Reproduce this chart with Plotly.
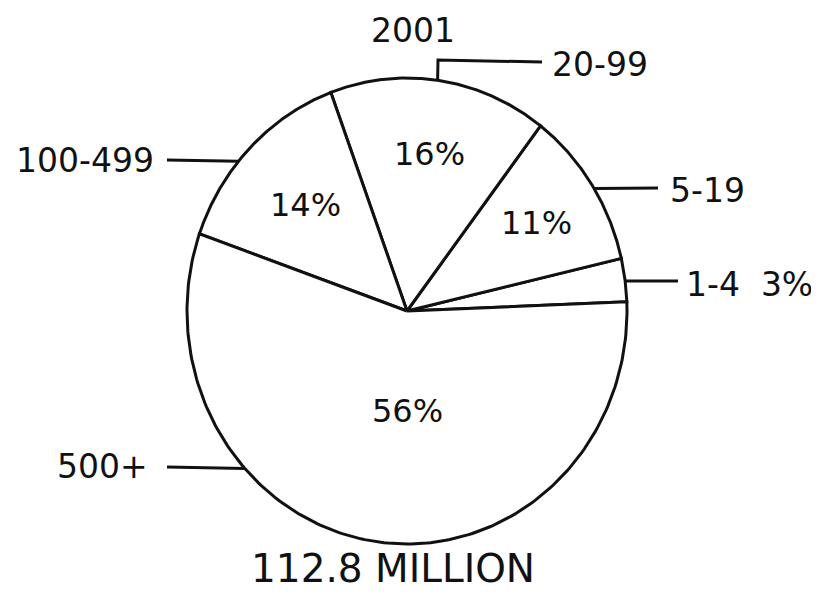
import numpy as np
import plotly.graph_objects as go

# data
labels = ["1-4", "5-19", "20-99", "100-499", "500+"]
shares = [3, 11, 16, 14, 56]
year = "2001"
total_text = "112.8 MILLION"

# pie geometry (page pixels, scan is slightly taller than wide)
CX, CY = 407, 311
RX, RY = 220, 233
START = 2.25  # degrees, counter-clockwise from 3 o'clock

FONT = "DejaVu Sans, sans-serif"
INK = "#111"
PAD = 8  # page body margin, so axis units equal page pixels


def pt(deg, f=1.0):
    t = np.radians(deg)
    return CX + f * RX * np.cos(t), CY - f * RY * np.sin(t)


fig = go.Figure()

bounds = START + np.concatenate([[0], np.cumsum(shares)]) * 3.6
for i, lab in enumerate(labels):
    a0, a1 = bounds[i], bounds[i + 1]
    ts = np.linspace(a0, a1, 200)
    xs, ys = pt(ts)
    fig.add_trace(go.Scatter(
        x=np.concatenate([[CX], xs, [CX]]),
        y=np.concatenate([[CY], ys, [CY]]),
        mode="lines", fill="toself", fillcolor="white",
        line=dict(color=INK, width=3), name=lab,
        hoverinfo="name", showlegend=False,
    ))

# inside percentage labels (3% is written outside)
inner_r = {"5-19": 0.70, "20-99": 0.68, "100-499": 0.65, "500+": 0.43}
for i, lab in enumerate(labels):
    if lab not in inner_r:
        continue
    mid = (bounds[i] + bounds[i + 1]) / 2
    if lab == "500+":
        mid = 270.5
    x, y = pt(mid, inner_r[lab])
    fig.add_annotation(x=x, y=y, text=f"{shares[i]}%", showarrow=False,
                       font=dict(size=32, color=INK, family=FONT))

# outside labels with leader lines: (angle on rim, path after rim, text anchor)
leaders = {
    "20-99": (82, [(438, 60), (542, 62)], (550, 64, "left")),
    "5-19": (31.7, [(658, 188)], (668, 190, "left")),
    "1-4": (7.4, [(678, 281)], (684, 284, "left")),
    "100-499": (140, [(167, 160)], (156, 160, "right")),
    "500+": (222.5, [(167, 467)], (150, 466, "right")),
}
for i, lab in enumerate(labels):
    ang, path, (tx, ty, anchor) = leaders[lab]
    x0, y0 = pt(ang)
    fig.add_trace(go.Scatter(
        x=[x0] + [p[0] for p in path], y=[y0] + [p[1] for p in path],
        mode="lines", line=dict(color=INK, width=3),
        hoverinfo="skip", showlegend=False,
    ))
    text = f"{lab}&nbsp;&nbsp;{shares[i]}%" if lab == "1-4" else lab
    fig.add_annotation(x=tx, y=ty, text=text, showarrow=False, xanchor=anchor,
                       font=dict(size=33, color=INK, family=FONT))

fig.add_annotation(x=413, y=30, text=year, showarrow=False,
                   font=dict(size=33, color=INK, family=FONT))
fig.add_annotation(x=393, y=568, text=total_text, showarrow=False,
                   font=dict(size=39, color=INK, family=FONT))

fig.update_layout(
    width=819, height=594,
    margin=dict(l=0, r=0, t=0, b=0),
    paper_bgcolor="white", plot_bgcolor="white",
    xaxis=dict(range=[PAD, 819 + PAD], visible=False, fixedrange=True),
    yaxis=dict(range=[594 + PAD, PAD], visible=False, fixedrange=True),
    showlegend=False,
)

fig.write_html("out.html")
